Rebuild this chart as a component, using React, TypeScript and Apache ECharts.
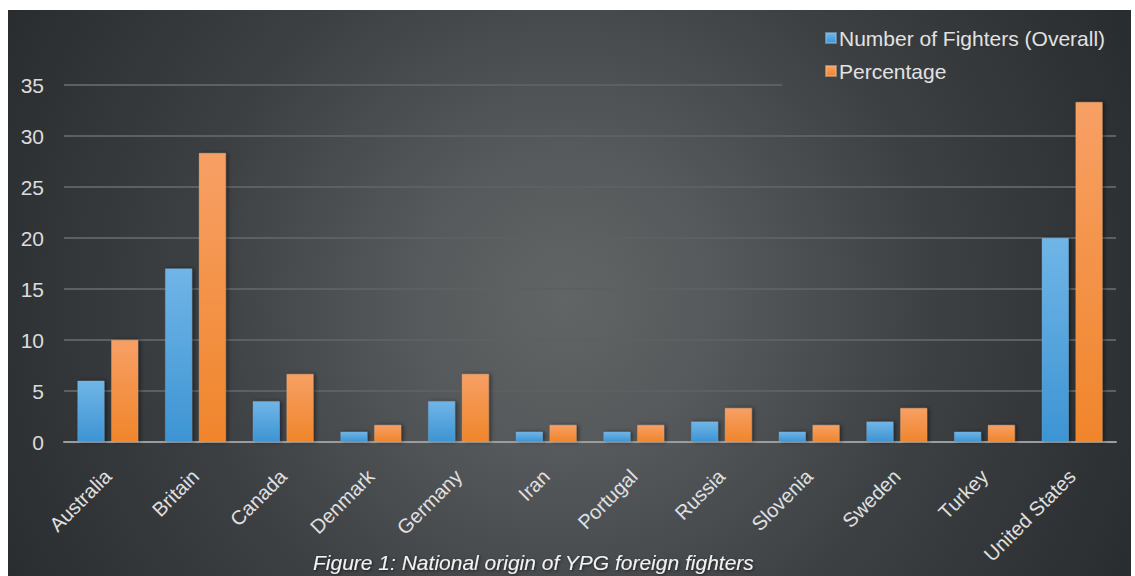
import React, { useEffect, useRef } from "react";
import * as echarts from "echarts";

const categories = [
  "Australia", "Britain", "Canada", "Denmark", "Germany", "Iran",
  "Portugal", "Russia", "Slovenia", "Sweden", "Turkey", "United States",
];
const fighters = [6, 17, 4, 1, 4, 1, 1, 2, 1, 2, 1, 20];
const percentage = [10, 28.33, 6.67, 1.67, 6.67, 1.67, 1.67, 3.33, 1.67, 3.33, 1.67, 33.33];
const seriesNames = ["Number of Fighters (Overall)", "Percentage"];
const yTicks = { min: 0, max: 35, interval: 5 };
const caption = "Figure 1: National origin of YPG foreign fighters";

const FONT = "'Liberation Sans', Arial, sans-serif";

export default function App() {
  const ref = useRef<HTMLDivElement>(null);
  useEffect(() => {
    if (!ref.current) return;
    const chart = echarts.init(ref.current, null, { renderer: "svg" });
    const bgStops = [
      { offset: 0, color: "#626565" },
      { offset: 0.25, color: "#56595b" },
      { offset: 0.6, color: "#3d4043" },
      { offset: 1, color: "#2a2d30" },
    ];
    const bg = () => new echarts.graphic.RadialGradient(565, 300, 620, bgStops, true);
    const blue = new echarts.graphic.LinearGradient(0, 0, 0, 1, [
      { offset: 0, color: "#70b5e7" },
      { offset: 1, color: "#3d94d3" },
    ]);
    const orange = new echarts.graphic.LinearGradient(0, 0, 0, 1, [
      { offset: 0, color: "#f7a065" },
      { offset: 1, color: "#f0852b" },
    ]);
    chart.setOption({
      animation: false,
      graphic: {
        elements: [
          {
            type: "rect",
            z: -100,
            silent: true,
            shape: { x: 8, y: 10, width: 1123, height: 566 },
            style: { fill: bg() },
          },
          {
            // the legend area hides the end of the top grid line
            type: "rect",
            z: 1,
            silent: true,
            shape: { x: 782, y: 80, width: 340, height: 10 },
            style: { fill: bg() },
          },
          {
            type: "text",
            left: 313,
            top: 552,
            style: {
              text: caption,
              fill: "#f2f2f2",
              font: `italic 21px ${FONT}`,
              textShadowColor: "rgba(0,0,0,0.6)",
              textShadowBlur: 3,
              textShadowOffsetX: 1,
              textShadowOffsetY: 1,
            },
          },
        ],
      },
      legend: {
        orient: "vertical",
        left: 825,
        top: 27,
        padding: 0,
        itemWidth: 10,
        itemHeight: 10,
        itemGap: 11,
        icon: "rect",
        textStyle: {
          color: "#e2e2e2",
          fontSize: 21,
          fontFamily: FONT,
          lineHeight: 22,
          padding: [0, 0, 0, -2],
        },
        data: seriesNames,
      },
      grid: { left: 64, right: 19, top: 85, bottom: 134, containLabel: false },
      xAxis: {
        type: "category",
        data: categories,
        axisLine: { lineStyle: { color: "#9c9c9c", width: 2 } },
        axisTick: { show: false },
        axisLabel: {
          rotate: 45,
          interval: 0,
          margin: 31,
          color: "#e0e0e0",
          fontSize: 20,
          fontFamily: FONT,
        },
      },
      yAxis: {
        type: "value",
        min: yTicks.min,
        max: yTicks.max,
        interval: yTicks.interval,
        axisLine: { show: false },
        axisTick: { show: false },
        axisLabel: {
          margin: 20,
          color: "#dcdcdc",
          fontSize: 21,
          fontFamily: FONT,
        },
        splitLine: { lineStyle: { color: "#5d6063", width: 2 } },
      },
      series: [
        {
          name: seriesNames[0],
          type: "bar",
          data: fighters,
          barWidth: 27,
          barGap: "25%",
          itemStyle: {
            color: blue,
            borderColor: "rgba(140,200,240,0.5)",
            borderWidth: 0.5,
            shadowColor: "rgba(0,0,0,0.5)",
            shadowBlur: 4,
            shadowOffsetX: 2,
          },
        },
        {
          name: seriesNames[1],
          type: "bar",
          data: percentage,
          barWidth: 27,
          itemStyle: {
            color: orange,
            borderColor: "rgba(250,190,140,0.5)",
            borderWidth: 0.5,
            shadowColor: "rgba(0,0,0,0.5)",
            shadowBlur: 4,
            shadowOffsetX: 2,
          },
        },
      ],
    });
    return () => chart.dispose();
  }, []);
  return (
    <div
      style={{ position: "fixed", left: 0, top: 0, width: 1135, height: 576, background: "#fff" }}
    >
      <div ref={ref} style={{ width: 1135, height: 576 }} />
    </div>
  );
}
